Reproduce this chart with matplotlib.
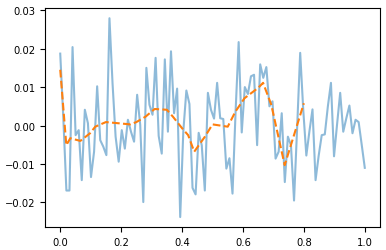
import numpy as np
import matplotlib
matplotlib.use("Agg")
import matplotlib.pyplot as plt

# noisy series, 100 samples on [0, 1]
x_noise = np.linspace(0, 1, 100)
y_noise = [0.0187, 0.0020, -0.0169, -0.0169, 0.0204, -0.0025, -0.0012, -0.0142, 0.0041, 0.0006,
           -0.0134, -0.0068, 0.0102, -0.0038, -0.0055, -0.0077, 0.0279, 0.0110, -0.0029, -0.0094,
           -0.0012, -0.0060, 0.0015, -0.0016, -0.0042, 0.0080, 0.0002, -0.0199, 0.0150, 0.0054,
           0.0028, 0.0176, -0.0027, -0.0073, 0.0172, -0.0016, 0.0193, 0.0032, 0.0096, -0.0238,
           -0.0016, 0.0091, 0.0056, -0.0162, -0.0179, -0.0019, -0.0051, -0.0169, 0.0085, 0.0041,
           0.0018, 0.0111, 0.0019, 0.0017, -0.0112, -0.0085, -0.0177, 0.0036, 0.0217, -0.0018,
           0.0100, 0.0082, 0.0128, 0.0132, -0.0051, 0.0159, 0.0124, 0.0152, 0.0050, 0.0063,
           -0.0086, -0.0068, 0.0032, -0.0147, -0.0029, -0.0051, -0.0195, -0.0007, 0.0189, 0.0040,
           -0.0078, -0.0015, 0.0042, -0.0142, -0.0079, -0.0025, -0.0023, 0.0050, 0.0111, -0.0080,
           0.0004, 0.0085, -0.0016, 0.0019, 0.0052, -0.0020, 0.0015, 0.0009, -0.0050, -0.0110]

# smoothed curve (dashed)
x_smooth = [0.0, 0.02, 0.033, 0.066, 0.098, 0.115, 0.15, 0.19, 0.23, 0.25, 0.28, 0.31, 0.35,
            0.37, 0.40, 0.42, 0.44, 0.475, 0.50, 0.55, 0.575, 0.605, 0.65, 0.666, 0.693, 0.737, 0.80]
y_smooth = [0.0145, -0.0051, -0.0033, -0.0040, -0.0020, -0.0003, 0.0009, 0.0006, 0.0003, 0.0009,
            0.0023, 0.0043, 0.0041, 0.0023, -0.0007, -0.0025, -0.0068, -0.0029, 0.0003, -0.0003,
            0.0036, 0.0071, 0.0098, 0.0111, 0.0054, -0.0103, 0.0058]

fig = plt.figure(figsize=(3.86, 2.51), dpi=100)
ax = fig.add_axes([0.1166, 0.0916, 0.8679, 0.8714])
ax.plot(x_noise, y_noise, alpha=0.5)
ax.plot(x_smooth, y_smooth, "--")
ax.tick_params(labelsize=7.2)
fig.savefig("out.png", dpi=100)
